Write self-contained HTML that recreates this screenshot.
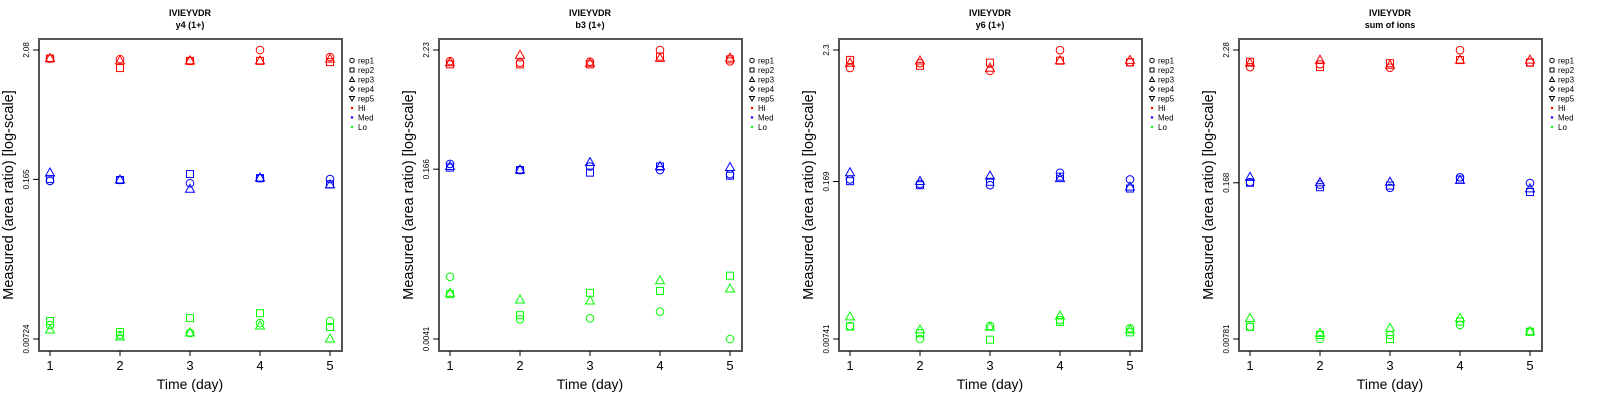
<!DOCTYPE html>
<html><head><meta charset="utf-8">
<style>
html,body{margin:0;padding:0;background:#fff;}
svg{display:block;font-family:"Liberation Sans",sans-serif;}
</style></head>
<body>
<svg id="chart" width="1600" height="400" viewBox="0 0 1600 400"></svg>
<script>
const days = [1, 2, 3, 4, 5];
const panelTitles = ["y4 (1+)", "b3 (1+)", "y6 (1+)", "sum of ions"];
const peptide = "IVIEYVDR";
const yMaxTicks = [2.08, 2.23, 2.3, 2.28];
const yMidTicks = [0.165, 0.166, 0.169, 0.168];
const yMinTicks = [0.00724, 0.0041, 0.00741, 0.00781];
const yMaxLabels = ["2.08", "2.23", "2.3", "2.28"];
const yMidLabels = ["0.165", "0.166", "0.169", "0.168"];
const yMinLabels = ["0.00724", "0.0041", "0.00741", "0.00781"];
const levels = ["Hi", "Med", "Lo"];
const reps = ["rep1", "rep2", "rep3"];
// values per panel: [level][rep][day]
const p1Hi = [[1.76,1.74,1.68,2.08,1.81],[1.76,1.46,1.68,1.68,1.64],[1.76,1.68,1.68,1.68,1.74]];
const p1Med = [[0.160,0.163,0.153,0.169,0.166],[0.166,0.163,0.183,0.169,0.150],[0.187,0.163,0.136,0.169,0.148]];
const p1Lo = [[0.00952,0.00783,0.00815,0.00990,0.0103],[0.0103,0.00830,0.0109,0.0120,0.00916],[0.00864,0.00753,0.00815,0.00934,0.00724]];
const p2Hi = [[1.75,1.69,1.73,2.23,1.74],[1.63,1.63,1.63,1.93,1.82],[1.69,1.99,1.67,1.86,1.87]];
const p2Med = [[0.186,0.163,0.176,0.163,0.149],[0.172,0.163,0.154,0.176,0.144],[0.176,0.163,0.192,0.176,0.172]];
const p2Lo = [[0.0159,0.00630,0.00644,0.00744,0.0041],[0.0109,0.00688,0.0112,0.0117,0.0163],[0.0111,0.00959,0.00938,0.0146,0.0122]];
const p3Hi = [[1.61,1.77,1.52,2.29,1.80],[1.89,1.68,1.79,1.86,1.80],[1.77,1.85,1.60,1.86,1.87]];
const p3Med = [[0.176,0.161,0.157,0.201,0.176],[0.170,0.157,0.168,0.186,0.147],[0.201,0.169,0.188,0.179,0.151]];
const p3Lo = [[0.00959,0.00741,0.00959,0.0108,0.00916],[0.00950,0.00830,0.00731,0.0104,0.00846],[0.0115,0.00886,0.00935,0.0117,0.00886]];
const p4Hi = [[1.63,1.72,1.61,2.27,1.78],[1.81,1.63,1.76,1.87,1.78],[1.76,1.87,1.69,1.87,1.87]];
const p4Med = [[0.170,0.162,0.152,0.187,0.167],[0.168,0.154,0.159,0.179,0.140],[0.187,0.168,0.170,0.176,0.149]];
const p4Lo = [[0.00994,0.00781,0.00845,0.0103,0.00901],[0.00994,0.00845,0.00781,0.0110,0.00901],[0.0117,0.00873,0.00964,0.0117,0.00901]];
const panelData = [[p1Hi,p1Med,p1Lo],[p2Hi,p2Med,p2Lo],[p3Hi,p3Med,p3Lo],[p4Hi,p4Med,p4Lo]];
const levelColors = ["#ff0000", "#0000ff", "#00ff00"];
const legendLabels = ["rep1","rep2","rep3","rep4","rep5","Hi","Med","Lo"];

const NS = "http://www.w3.org/2000/svg";
const svg = document.getElementById("chart");
function mk(tag, attrs, parent) {
  const e = document.createElementNS(NS, tag);
  for (const k in attrs) e.setAttribute(k, attrs[k]);
  (parent || svg).appendChild(e);
  return e;
}

for (let p = 0; p < 4; p++) {
  const ox = p * 400;
  const g = mk("g", {transform: "translate(" + ox + ",0)"});
  
  
  const yMax = yMaxTicks[p], yMin = yMinTicks[p];
  const yScale = v => 339 - (Math.log(v / yMin) / Math.log(yMax / yMin)) * 289;
  const xScale = d => 50 + (d - 1) * 70;

  let t = mk("text", {x: 190, y: 16, "text-anchor": "middle", "font-size": 9, "font-weight": "bold", fill: "#000"}, g);
  t.textContent = peptide;
  
  
  t = mk("text", {x: 190, y: 28, "text-anchor": "middle", "font-size": 9, "font-weight": "bold", fill: "#000"}, g);
  t.textContent = panelTitles[p];
  
  

  const box = mk("rect", {x: 39, y: 39, width: 303, height: 312, fill: "none", stroke: "#555", "stroke-width": 2}, g);
  
  

  // y ticks
  const yt = [[yMax, yMaxLabels[p]], [yMidTicks[p], yMidLabels[p]], [yMin, yMinLabels[p]]];
  yt.forEach(([v, lab]) => {
    const y = yScale(v);
    const l = mk("line", {x1: 33, x2: 39, y1: y, y2: y, stroke: "#000", "stroke-width": 1}, g);
    
    
    const tx = mk("text", {x: 29, y: y, transform: "rotate(-90 29 " + y + ")", "text-anchor": "middle", "font-size": 8, fill: "#000"}, g);
    tx.textContent = lab;
    
    
  });
  // x ticks
  days.forEach(d => {
    const x = xScale(d);
    const l = mk("line", {x1: x, x2: x, y1: 351, y2: 356, stroke: "#000", "stroke-width": 1}, g);
    
    
    const tx = mk("text", {x: x, y: 370, "text-anchor": "middle", "font-size": 13, fill: "#000"}, g);
    tx.textContent = d;
    
    
  });
  t = mk("text", {x: 190, y: 389, "text-anchor": "middle", "font-size": 14, fill: "#000"}, g);
  t.textContent = "Time (day)";
  
  
  t = mk("text", {x: 13, y: 195, transform: "rotate(-90 13 195)", "text-anchor": "middle", "font-size": 14.5, fill: "#000"}, g);
  t.textContent = "Measured (area ratio) [log-scale]";
  
  

  // points
  panelData[p].forEach((lvl, li) => {
    const col = levelColors[li];
    lvl.forEach((series, ri) => {
      series.forEach((v, di) => {
        const x = xScale(days[di]), y = yScale(v);
        let m;
        if (ri === 0) m = mk("circle", {cx: x, cy: y, r: 3.8, fill: "none", stroke: col, "stroke-width": 1}, g);
        else if (ri === 1) m = mk("rect", {x: x - 3.5, y: y - 3.5, width: 7, height: 7, fill: "none", stroke: col, "stroke-width": 1}, g);
        else m = mk("polygon", {points: (x) + "," + (y - 5) + " " + (x - 4.5) + "," + (y + 3) + " " + (x + 4.5) + "," + (y + 3), fill: "none", stroke: col, "stroke-width": 1}, g);
        
        
      });
    });
  });

  // legend
  legendLabels.forEach((lab, i) => {
    const y = 60.5 + i * 9.5;
    const lg = mk("g", {}, g);
    
    
    const sx = 352;
    if (i === 0) mk("circle", {cx: sx, cy: y, r: 2.2, fill: "none", stroke: "#000", "stroke-width": 1}, lg);
    else if (i === 1) mk("rect", {x: sx - 2, y: y - 2, width: 4, height: 4, fill: "none", stroke: "#000", "stroke-width": 1}, lg);
    else if (i === 2) mk("polygon", {points: sx + "," + (y - 2.5) + " " + (sx - 2.5) + "," + (y + 2) + " " + (sx + 2.5) + "," + (y + 2), fill: "none", stroke: "#000", "stroke-width": 1}, lg);
    else if (i === 3) mk("polygon", {points: sx + "," + (y - 2.5) + " " + (sx + 2.5) + "," + y + " " + sx + "," + (y + 2.5) + " " + (sx - 2.5) + "," + y, fill: "none", stroke: "#000", "stroke-width": 1}, lg);
    else if (i === 4) mk("polygon", {points: sx + "," + (y + 2.5) + " " + (sx - 2.5) + "," + (y - 2) + " " + (sx + 2.5) + "," + (y - 2), fill: "none", stroke: "#000", "stroke-width": 1}, lg);
    else mk("circle", {cx: sx, cy: y, r: 1.2, fill: levelColors[i - 5]}, lg);
    const tx = mk("text", {x: 358, y: y + 3, "font-size": 8, fill: "#000"}, lg);
    tx.textContent = lab;
  });
}
</script>
</body></html>
